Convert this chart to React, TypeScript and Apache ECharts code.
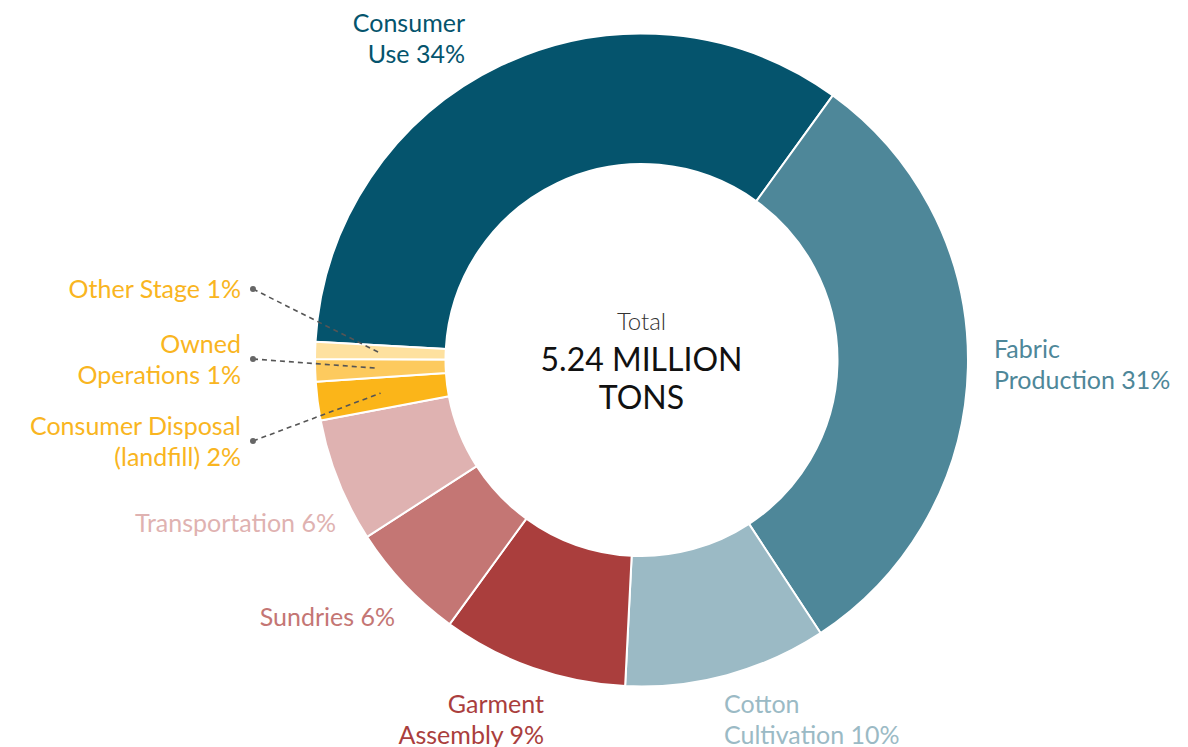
import React, { useEffect, useRef } from 'react';
import * as echarts from 'echarts';

// ---- data ----
const categories = [
  'Consumer Use',
  'Fabric Production',
  'Cotton Cultivation',
  'Garment Assembly',
  'Sundries',
  'Transportation',
  'Consumer Disposal (landfill)',
  'Owned Operations',
  'Other Stage',
];
const labelNames = [
  'Consumer\nUse',
  'Fabric\nProduction',
  'Cotton\nCultivation',
  'Garment\nAssembly',
  'Sundries',
  'Transportation',
  'Consumer Disposal\n(landfill)',
  'Owned\nOperations',
  'Other Stage',
];
// million tons (total 5.24)
const values = [1.786, 1.614, 0.526, 0.482, 0.309, 0.322, 0.1, 0.058, 0.044];
const centerTitle = 'Total';
const centerValue = '5.24 MILLION\nTONS';
const leaderIndices = [6, 7, 8];

// ---- styles / layout ----
const sliceColors = ['#05546d', '#4e8799', '#9bbac5', '#aa3e3d', '#c47674', '#dfb2b1', '#fbb519', '#fdca5e', '#fee19f'];
const labelColors = ['#05546d', '#4e8799', '#9bbac5', '#aa3e3d', '#c47674', '#dfb2b1', '#f9b521', '#f9b521', '#f9b521'];
const CX = 641.5;
const CY = 360;
const R_OUT = 326.5;
const R_IN = 196;
const R_LEADER = 263;
const START_ANGLE = 176.8;
const labelPos: { x: number; y: number; align: string }[] = [
  { x: 465, y: 37, align: 'right' },
  { x: 994, y: 363, align: 'left' },
  { x: 724, y: 718, align: 'left' },
  { x: 544, y: 718, align: 'right' },
  { x: 395, y: 616, align: 'right' },
  { x: 336, y: 522, align: 'right' },
  { x: 241, y: 440, align: 'right' },
  { x: 241, y: 358, align: 'right' },
  { x: 241, y: 288, align: 'right' },
];
const dotPos: Record<number, [number, number]> = { 6: [253, 441], 7: [253, 359], 8: [253, 289] };

const FONT = 'Lato, "Open Sans", sans-serif';

function midAngle(i: number): number {
  const total = values.reduce((a, b) => a + b, 0);
  let cum = 0;
  for (let k = 0; k < i; k++) cum += values[k];
  return START_ANGLE - ((cum + values[i] / 2) / total) * 360;
}

export default function App() {
  const ref = useRef<HTMLDivElement>(null);
  useEffect(() => {
    document.body.style.margin = '0';
    if (!ref.current) return;
    const chart = echarts.init(ref.current, null, { renderer: 'svg' });
    const option: any = {
      animation: false,
      backgroundColor: '#ffffff',
      graphic: [
        {
          type: 'text',
          x: CX,
          y: 320,
          style: {
            text: centerTitle,
            fill: '#333333',
            font: `300 24px ${FONT}`,
            textAlign: 'center',
            textVerticalAlign: 'middle',
          },
        },
        {
          type: 'text',
          x: CX,
          y: 377,
          style: {
            text: centerValue,
            fill: '#111111',
            fontFamily: FONT,
            fontSize: 32,
            lineHeight: 38,
            textAlign: 'center',
            textVerticalAlign: 'middle',
          },
        },
      ],
      series: [
        {
          type: 'pie',
          z: 2,
          center: [CX, CY],
          radius: [R_IN, R_OUT],
          startAngle: START_ANGLE,
          clockwise: true,
          avoidLabelOverlap: false,
          emphasis: { disabled: true },
          itemStyle: { borderColor: '#ffffff', borderWidth: 2 },
          label: {
            show: true,
            position: 'outside',
            fontFamily: FONT,
            fontSize: 25,
            lineHeight: 31,
            formatter: (p: any) => `${labelNames[p.dataIndex]} ${Math.round(p.percent)}%`,
          },
          labelLine: { show: false },
          labelLayout: (p: any) => {
            const lp = labelPos[p.dataIndex];
            return { x: lp.x, y: lp.y, align: lp.align, verticalAlign: 'middle' };
          },
          data: categories.map((name, i) => ({
            name,
            value: values[i],
            itemStyle: { color: sliceColors[i] },
            label: { color: labelColors[i] },
          })),
        },
        {
          type: 'pie',
          z: 10,
          center: [CX, CY],
          radius: [0, R_LEADER],
          startAngle: START_ANGLE,
          clockwise: true,
          silent: true,
          avoidLabelOverlap: false,
          emphasis: { disabled: true },
          itemStyle: { color: 'rgba(0,0,0,0)', borderWidth: 0 },
          label: {
            show: true,
            position: 'outside',
            formatter: '{d| }',
            rich: { d: { width: 6, height: 6, borderRadius: 3, backgroundColor: '#666666', fontSize: 6 } },
          },
          labelLine: {
            show: true,
            length: 10,
            length2: 0,
            lineStyle: { color: '#555555', width: 1.6, type: [5, 4] },
          },
          labelLayout: (p: any) => {
            const i = p.dataIndex;
            const d = dotPos[i];
            if (!d) return {};
            const a = (midAngle(i) * Math.PI) / 180;
            const sx = CX + R_LEADER * Math.cos(a);
            const sy = CY - R_LEADER * Math.sin(a);
            return {
              x: d[0],
              y: d[1],
              align: 'center',
              verticalAlign: 'middle',
              labelLinePoints: [
                [d[0], d[1]],
                [sx, sy],
              ],
            };
          },
          data: categories.map((name, i) => {
            const show = leaderIndices.indexOf(i) >= 0;
            return {
              name,
              value: values[i],
              label: { show },
              labelLine: { show },
            };
          }),
        },
      ],
    };
    chart.setOption(option);
    return () => chart.dispose();
  }, []);
  return <div ref={ref} style={{ width: 1188, height: 747 }} />;
}
